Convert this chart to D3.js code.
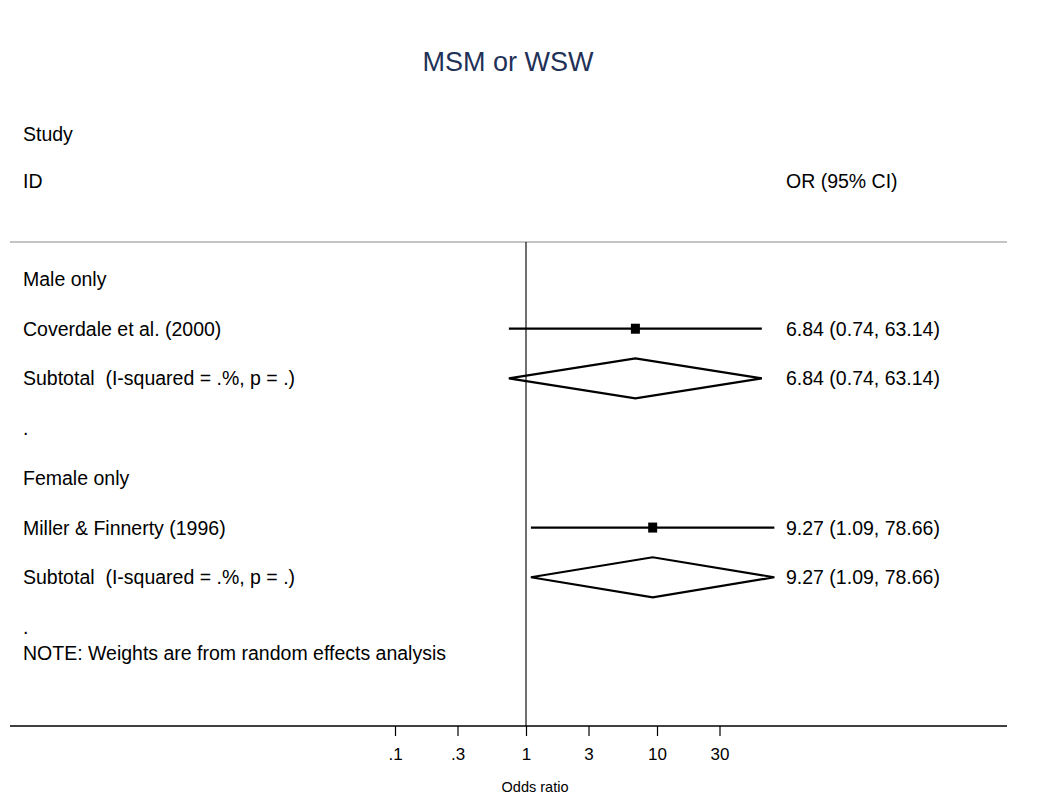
<!DOCTYPE html>
<html><head><meta charset="utf-8">
<script src="https://cdn.jsdelivr.net/npm/d3@7"></script>
<style>body{margin:0;background:#fff}svg{display:block}text{font-family:"Liberation Sans",Arial,sans-serif;white-space:pre}</style>
</head><body><svg id="c" width="1048" height="802"></svg>
<script>
const titleText = "MSM or WSW";
const rowLabels = ["Male only","Coverdale et al. (2000)","Subtotal  (I-squared = .%, p = .)",".","Female only","Miller & Finnerty (1996)","Subtotal  (I-squared = .%, p = .)","."];
const noteText = "NOTE: Weights are from random effects analysis";
// study rows (row index, OR, lower, upper)
const studyRows = [1, 5];
const studyOR = [6.84, 9.27];
const studyLo = [0.74, 1.09];
const studyHi = [63.14, 78.66];
// subtotal rows
const subRows = [2, 6];
const subOR = [6.84, 9.27];
const subLo = [0.74, 1.09];
const subHi = [63.14, 78.66];
const valueLabels = ["6.84 (0.74, 63.14)","6.84 (0.74, 63.14)","9.27 (1.09, 78.66)","9.27 (1.09, 78.66)"];
const valueRows = [1, 2, 5, 6];
const tickValues = [0.1, 0.3, 1, 3, 10, 30];
const tickLabels = [".1", ".3", "1", "3", "10", "30"];

const svg = d3.select("#c");
const x = d3.scaleLog().domain([0.1, 100]).range([395, 788]);
const y = d3.scaleLinear().domain([0, 7]).range([279, 627]);
const fs = 19.5;

svg.append("text").attr("x", 508).attr("y", 62).attr("text-anchor","middle")
  .attr("dominant-baseline","central").attr("font-size", 27).attr("fill","#1f3157").text(titleText);

svg.append("text").attr("x", 23).attr("y", 134).attr("dominant-baseline","central").attr("font-size", fs).text("Study");
svg.append("text").attr("x", 23).attr("y", 181).attr("dominant-baseline","central").attr("font-size", fs).text("ID");
svg.append("text").attr("x", 786).attr("y", 181).attr("dominant-baseline","central").attr("font-size", fs).text("OR (95% CI)");

svg.append("line").attr("x1", 10).attr("x2", 1007).attr("y1", 242).attr("y2", 242)
  .attr("stroke", "#c4c4c4").attr("stroke-width", 2);

// null line
svg.append("line").attr("x1", x(1)).attr("x2", x(1)).attr("y1", 242).attr("y2", 726)
  .attr("stroke", "#222").attr("stroke-width", 1.3);

svg.selectAll("text.row").data(rowLabels).enter().append("text").attr("class","row")
  .attr("x", 23).attr("y", (d,i)=>y(i)).attr("dominant-baseline","central").attr("font-size", fs).text(d=>d);
svg.append("text").attr("x", 23).attr("y", y(7)+26).attr("dominant-baseline","central").attr("font-size", fs).text(noteText);

// CI lines
svg.selectAll("line.ci").data(studyRows).enter().append("line").attr("class","ci")
  .attr("x1",(d,i)=>x(studyLo[i])).attr("x2",(d,i)=>x(studyHi[i]))
  .attr("y1",d=>y(d)).attr("y2",d=>y(d)).attr("stroke","#000").attr("stroke-width",2.2);
svg.selectAll("rect.pt").data(studyRows).enter().append("rect").attr("class","pt")
  .attr("x",(d,i)=>x(studyOR[i])-4.5).attr("y",d=>y(d)-5).attr("width",9).attr("height",10).attr("fill","#000");

// diamonds
svg.selectAll("path.dia").data(subRows).enter().append("path").attr("class","dia")
  .attr("d",(d,i)=>{const yy=y(d);return `M${x(subLo[i])},${yy}L${x(subOR[i])},${yy-20}L${x(subHi[i])},${yy}L${x(subOR[i])},${yy+20}Z`;})
  .attr("fill","none").attr("stroke","#000").attr("stroke-width",2.2);

svg.selectAll("text.val").data(valueLabels).enter().append("text").attr("class","val")
  .attr("x", 786).attr("y",(d,i)=>y(valueRows[i])).attr("dominant-baseline","central").attr("font-size", fs).text(d=>d);

// axis
svg.append("line").attr("x1", 10).attr("x2", 1007).attr("y1", 726).attr("y2", 726).attr("stroke","#000").attr("stroke-width",1.5);
const ax = svg.append("g").attr("transform","translate(0,726)")
  .call(d3.axisBottom(x).tickValues(tickValues).tickSize(10).tickPadding(12).tickFormat((d,i)=>tickLabels[i]));
ax.select(".domain").remove();
ax.selectAll("line").attr("stroke","#000").attr("stroke-width",1.2);
ax.selectAll("text").attr("font-size",17).attr("fill","#000").attr("font-family","Liberation Sans, Arial, sans-serif");

svg.append("text").attr("x", 535).attr("y", 787).attr("text-anchor","middle").attr("dominant-baseline","central")
  .attr("font-size", 14.5).text("Odds ratio");
</script></body></html>
